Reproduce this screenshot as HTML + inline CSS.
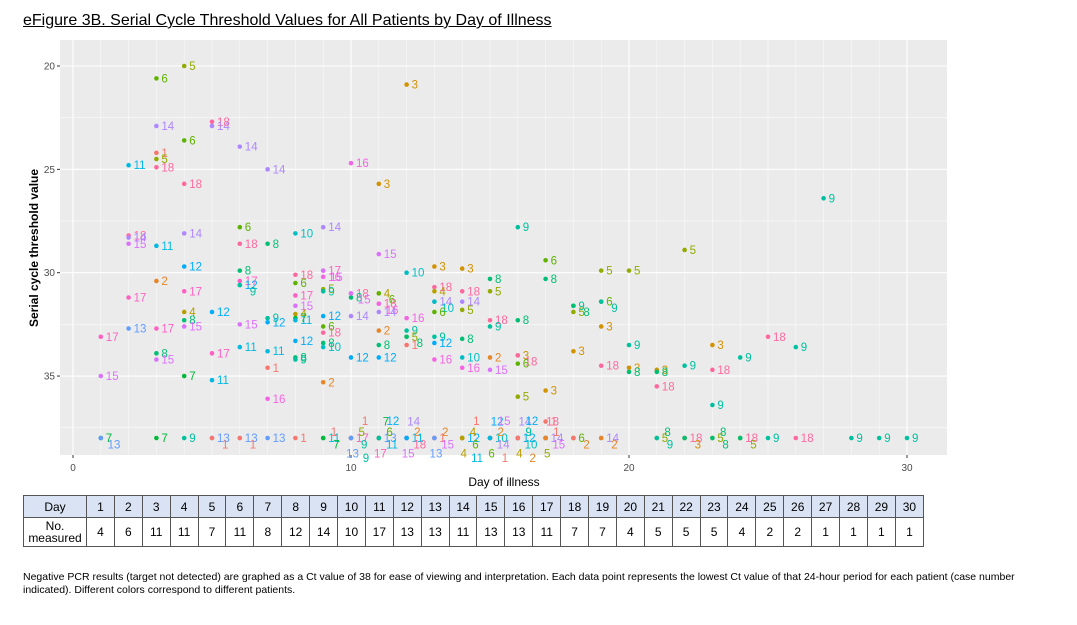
<!DOCTYPE html>
<html><head><meta charset="utf-8"><style>
body{margin:0;background:#fff;font-family:"Liberation Sans",sans-serif;}
#wrap{position:relative;width:1077px;height:625px;overflow:hidden;}
.title{position:absolute;left:23px;top:12px;font-size:16px;text-decoration:underline;color:#000;}
table{position:absolute;left:23px;top:495px;border-collapse:collapse;font-size:12px;table-layout:fixed;width:901px;}
td{border:1px solid #555;text-align:center;padding:0;}
tr.h td{background:#dae3f3;height:21px;}
tr.v td{height:28px;}
td.lab{width:62px;line-height:12px;}
.note{position:absolute;left:23px;top:571px;font-size:10.5px;line-height:13px;color:#000;}
</style></head><body>
<div id="wrap">
<div class="title">eFigure 3B. Serial Cycle Threshold Values for All Patients by Day of Illness</div>
<svg id="chart" width="1077" height="490" style="position:absolute;left:0;top:0"></svg>
<table><tbody id="tb"></tbody></table>
<div class="note">Negative PCR results (target not detected) are graphed as a Ct value of 38 for ease of viewing and interpretation. Each data point represents the lowest Ct value of that 24-hour period for each patient (case number<br>indicated). Different colors correspond to different patients.</div>
</div>
<script>
const ctByDay=[
[33.1,35.0,38,38],
[24.8,28.2,28.3,28.6,31.2,32.7],
[20.6,22.9,24.2,24.5,24.9,28.7,30.4,32.7,33.9,34.2,38],
[20.0,23.6,25.7,28.1,29.7,30.9,31.9,32.3,32.6,35.0,38],
[22.7,22.9,31.9,33.9,35.2,38,38],
[23.9,27.8,28.6,29.9,30.4,30.6,30.6,32.5,33.6,38,38],
[25.0,28.6,32.2,32.4,33.8,34.6,36.1,38],
[28.1,30.1,30.5,31.1,31.6,32.0,32.2,32.3,33.3,34.1,34.2,38],
[27.8,29.9,29.9,30.2,30.8,30.9,32.1,32.6,32.9,33.4,33.6,35.3,38,38],
[24.7,31.0,31.2,31.0,32.1,34.1,38,38,38,38],
[25.7,29.1,31.0,31.0,31.5,31.5,31.9,32.8,33.5,34.1,38,38,38,38,38,38,38],
[20.9,30.0,32.2,32.8,33.1,33.1,33.5,38,38,38,38,38,38],
[29.7,30.7,30.9,31.4,31.4,31.9,33.1,33.4,34.2,38,38,38,38],
[29.8,30.9,31.4,31.8,33.2,34.1,34.6,38,38,38,38],
[30.3,30.9,32.3,32.6,34.1,34.7,38,38,38,38,38,38,38],
[27.8,32.3,34.0,34.0,34.4,36.0,38,38,38,38,38,38,38],
[29.4,30.3,35.7,37.2,38,38,38,38,38,38,38],
[31.6,31.6,31.9,33.8,38,38,38],
[29.9,31.4,31.4,32.6,34.5,38,38],
[29.9,33.5,34.6,34.8],
[34.7,34.8,35.5,38,38],
[28.9,34.5,38,38,38],
[33.5,34.7,36.4,38,38],
[34.1,38,38,38],
[33.1,38],
[33.6,38],
[26.4],
[38],[38],[38]];
const patientsByDay=[
[17,15,7,13],
[11,18,14,15,17,13],
[6,14,1,5,18,11,2,17,8,15,7],
[5,6,18,14,12,17,4,8,15,7,9],
[18,14,12,17,11,13,1],
[14,6,18,8,17,12,9,15,11,13,1],
[14,8,9,12,11,1,16,13],
[10,18,6,17,15,4,7,11,12,8,9,1],
[14,17,15,16,5,9,12,6,18,8,10,2,11,7],
[16,18,8,15,14,12,17,9,1,13],
[3,15,4,6,18,16,14,2,8,12,13,11,5,17,7,1,9],
[3,10,16,9,5,8,1,11,18,6,15,14,12],
[3,18,4,14,10,6,9,12,16,1,15,2,13],
[3,18,14,5,8,10,16,12,6,2,4],
[8,5,18,9,2,15,10,14,4,6,12,1,11],
[9,8,3,18,6,5,12,10,2,4,14,15,1],
[6,8,3,1,14,15,9,5,18,12,2],
[9,8,5,3,6,2,1],
[5,6,9,3,18,14,2],
[5,9,3,8],
[3,8,18,5,9],
[5,9,18,3,8],
[3,18,9,5,8],
[9,18,5,8],
[18,9],
[9,18],
[9],
[9],[9],[9]];
const xTicks=[0,10,20,30];
const yTicks=[20,25,30,35];
const tableCounts=[4,6,11,11,7,11,8,12,14,10,17,13,13,11,13,13,11,7,7,4,5,5,5,4,2,2,1,1,1,1];
const pal=["#F8766D","#E88526","#D39200","#B79F00","#93AA00","#5EB300","#00BA38","#00BF74","#00C19F","#00BFC4","#00B9E3","#00ADFA","#619CFF","#AE87FF","#DB72FB","#F564E3","#FF61C3","#FF689F"];
const NS="http://www.w3.org/2000/svg";
const svg=document.getElementById('chart');
const X=d=>73+d*27.8, Y=c=>66+(c-20)*20.67;
const PL=60,PR=947,PT=40,PB=455;
function mk(t,a,p){const e=document.createElementNS(NS,t);for(const k in a)e.setAttribute(k,a[k]);(p||svg).appendChild(e);return e;}
const bg=mk('rect',{x:PL,y:PT,width:PR-PL,height:PB-PT,fill:'#EBEBEB'});


for(let v=17.5;v<=40;v+=2.5){const y=Y(v);if(y<PT||y>PB)continue;mk('line',{x1:PL,x2:PR,y1:y,y2:y,stroke:'#fff','stroke-width':yTicks.includes(v)?1.1:0.5});}
for(let d=-5;d<=35;d+=5){const x=X(d);if(x<PL||x>PR)continue;mk('line',{x1:x,x2:x,y1:PT,y2:PB,stroke:'#fff','stroke-width':xTicks.includes(d)?1.1:0.5});}
for(let d=1;d<=30;d++){if(d%5)mk('line',{x1:X(d),x2:X(d),y1:PT,y2:PB,stroke:'#fff','stroke-width':0.4});}
xTicks.forEach(d=>{mk('line',{x1:X(d),x2:X(d),y1:PB,y2:PB+3,stroke:'#333'});const t=mk('text',{x:X(d),y:PB+16,'font-size':10,fill:'#4d4d4d','text-anchor':'middle'});t.textContent=d;

});
yTicks.forEach(v=>{mk('line',{x1:PL-3,x2:PL,y1:Y(v),y2:Y(v),stroke:'#333'});const t=mk('text',{x:PL-5,y:Y(v)+3.5,'font-size':10,fill:'#4d4d4d','text-anchor':'end'});t.textContent=v;

});
const xt=mk('text',{x:504,y:486,'font-size':12,'text-anchor':'middle',fill:'#000'});xt.textContent='Day of illness';


const yt=mk('text',{x:38,y:248,'font-size':12,'font-weight':'bold','text-anchor':'middle',transform:'rotate(-90 38 248)',fill:'#000'});yt.textContent='Serial cycle threshold value';


const seen={};
ctByDay.forEach((arr,di)=>{
 const day=di+1;
 arr.forEach((ct,j)=>{
  const pt=patientsByDay[di][j];
  const x=X(day),y=Y(ct),c=pal[pt-1];
  const key=day+'_'+ct;const k=seen[key]=(seen[key]||0)+1;
  const p=mk('circle',{cx:x,cy:y,r:2.3,fill:c});
  
  
  let lx=x+5,ly=y+4,anc='start';
  if(k>1){const ang=[0,2.4,0.6,3.6,1.5,5.0,4.2,2.0][k%8];const r=10+k*3;lx=x+Math.cos(ang)*r;ly=y+Math.sin(ang)*r*0.7+4;anc='middle';}
  const t=mk('text',{x:lx,y:ly,'font-size':11.5,fill:c,'text-anchor':anc});t.textContent=pt;
  
  
 });
});
const tb=document.getElementById('tb');
let h='<tr class="h"><td class="lab">Day</td>';
for(let d=1;d<=30;d++)h+='<td>'+d+'</td>';
h+='</tr><tr class="v"><td class="lab">No.<br>measured</td>';
tableCounts.forEach(n=>h+='<td>'+n+'</td>');
tb.innerHTML=h+'</tr>';
</script>
</body></html>
